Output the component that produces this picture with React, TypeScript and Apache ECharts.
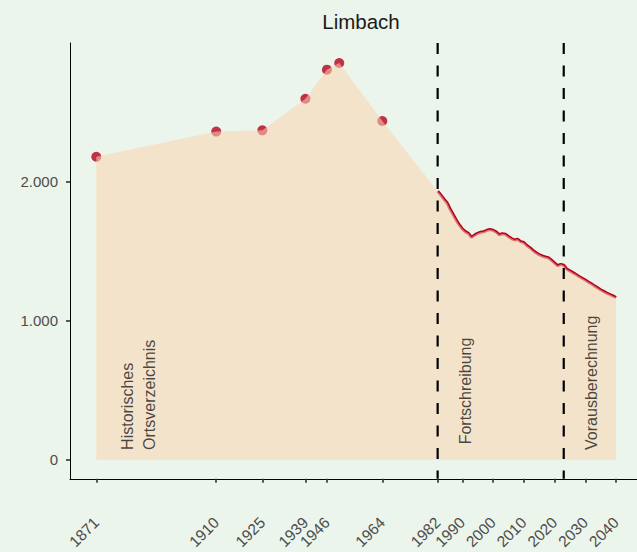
import React, { useEffect, useRef } from "react";
import * as echarts from "echarts";

// Historical census values (Historisches Ortsverzeichnis)
const histYears = [1871, 1910, 1925, 1939, 1946, 1950, 1964];
const histValues = [2179, 2360, 2369, 2596, 2805, 2853, 2436];

// Annual values (Fortschreibung + Vorausberechnung)
const fortYears = [
  1982, 1983, 1984, 1985, 1986, 1987, 1988, 1989, 1990, 1991,
  1992, 1993, 1994, 1995, 1996, 1997, 1998, 1999, 2000, 2001,
  2002, 2003, 2004, 2005, 2006, 2007, 2008, 2009, 2010, 2011,
  2012, 2013, 2014, 2015, 2016, 2017, 2018, 2019, 2020, 2021,
  2022, 2023, 2024, 2025, 2026, 2027, 2028, 2029, 2030, 2031,
  2032, 2033, 2034, 2035, 2036, 2037, 2038, 2039, 2040,
];
const fortValues = [
  1930, 1905, 1875, 1850, 1805, 1765, 1725, 1690, 1660, 1640,
  1628, 1600, 1615, 1628, 1636, 1640, 1650, 1655, 1650, 1638,
  1618, 1625, 1622, 1605, 1590, 1580, 1585, 1568, 1562, 1540,
  1525, 1505, 1488, 1475, 1465, 1458, 1452, 1435, 1415, 1395,
  1405, 1398, 1370, 1358, 1345, 1332, 1318, 1305, 1292, 1278,
  1265, 1250, 1236, 1222, 1210, 1198, 1188, 1178, 1166,
];

const xTickYears = [1871, 1910, 1925, 1939, 1946, 1964, 1982, 1990, 2000, 2010, 2020, 2030, 2040];
const yTickValues = [0, 1000, 2000];
const phaseBreakYears = [1982, 2023];

const annotationTexts = ["Historisches\nOrtsverzeichnis", "Fortschreibung", "Vorausberechnung"];
const annotationYears = [1884.6, 1991.0, 2032.1];
const annotationValues = [70, 110, 70];

const X_MIN = 1862.45;
const X_MAX = 2048.45;
const Y_MIN = -138;
const Y_MAX = 2997;

const RED = "#B4001E";
const FONT = "'Liberation Sans', Arial, Helvetica, sans-serif";

const fmtDe = (v: number) => String(Math.round(v)).replace(/\B(?=(\d{3})+(?!\d))/g, ".");

export default function App() {
  const ref = useRef<HTMLDivElement>(null);

  useEffect(() => {
    document.body.style.margin = "0";
    if (!ref.current) return;
    const chart = echarts.init(ref.current, null, { renderer: "svg" });

    const histPts = histYears.map((y, i) => [y, histValues[i]]);
    const fortPts = fortYears.map((y, i) => [y, fortValues[i]]);
    const areaPts = [...histPts, ...fortPts];

    const breakSeries = phaseBreakYears.map((yr) => ({
      type: "line",
      data: [
        [yr, Y_MAX],
        [yr, Y_MIN],
      ],
      showSymbol: false,
      silent: true,
      z: 6,
      lineStyle: { color: "#000", width: 2.2, type: [11, 11.5] },
    }));

    chart.setOption({
      animation: false,
      backgroundColor: "#ECF5EB",
      textStyle: { fontFamily: FONT },
      title: {
        text: "Limbach",
        left: 356,
        textAlign: "center",
        top: 6,
        textStyle: { fontSize: 20.5, fontWeight: "normal", color: "#1a1a1a", fontFamily: FONT },
      },
      grid: { left: 70, top: 43, width: 572, height: 439, containLabel: false },
      xAxis: {
        type: "value",
        min: X_MIN,
        max: X_MAX,
        splitLine: { show: false },
        axisLine: { show: true, onZero: false, lineStyle: { color: "#000", width: 1 } },
        axisTick: {
          show: true,
          customValues: xTickYears,
          length: 4,
          lineStyle: { color: "#333", width: 1.6 },
        },
        axisLabel: {
          customValues: xTickYears,
          formatter: (v: number) => String(v),
          rotate: 45,
          margin: 41,
          fontSize: 15.5,
          color: "#4D4D4D",
          fontFamily: FONT,
        },
      },
      yAxis: {
        type: "value",
        min: Y_MIN,
        max: Y_MAX,
        splitLine: { show: false },
        axisLine: { show: true, onZero: false, lineStyle: { color: "#000", width: 1 } },
        axisTick: {
          show: true,
          customValues: yTickValues,
          length: 4,
          lineStyle: { color: "#333", width: 1.6 },
        },
        axisLabel: {
          customValues: yTickValues,
          formatter: (v: number) => fmtDe(v),
          margin: 12,
          fontSize: 15,
          color: "#4D4D4D",
          fontFamily: FONT,
        },
      },
      series: [
        {
          type: "scatter",
          data: histPts,
          symbolSize: 10,
          itemStyle: { color: RED },
          z: 2,
          silent: true,
        },
        {
          type: "line",
          data: fortPts,
          showSymbol: false,
          lineStyle: { color: RED, width: 3 },
          z: 2,
          silent: true,
        },
        {
          type: "line",
          data: areaPts,
          showSymbol: false,
          lineStyle: { width: 0, opacity: 0 },
          areaStyle: { color: "rgba(252,212,176,0.55)", origin: 0, opacity: 1 },
          z: 3,
          silent: true,
        },
        ...breakSeries,
        {
          type: "scatter",
          data: annotationYears.map((y, i) => ({
            value: [y, annotationValues[i]],
            label: { formatter: annotationTexts[i] },
          })),
          symbolSize: 0,
          silent: true,
          z: 7,
          label: {
            show: true,
            position: [0, 0],
            rotate: 90,
            align: "left",
            verticalAlign: "middle",
            fontSize: 16,
            lineHeight: 22,
            color: "#1a1a1a",
            fontFamily: FONT,
          },
        },
      ],
    } as any);

    return () => chart.dispose();
  }, []);

  return (
    <div style={{ width: 637, height: 552, overflow: "hidden", position: "relative" }}>
      <div ref={ref} style={{ width: 648, height: 552 }} />
    </div>
  );
}
